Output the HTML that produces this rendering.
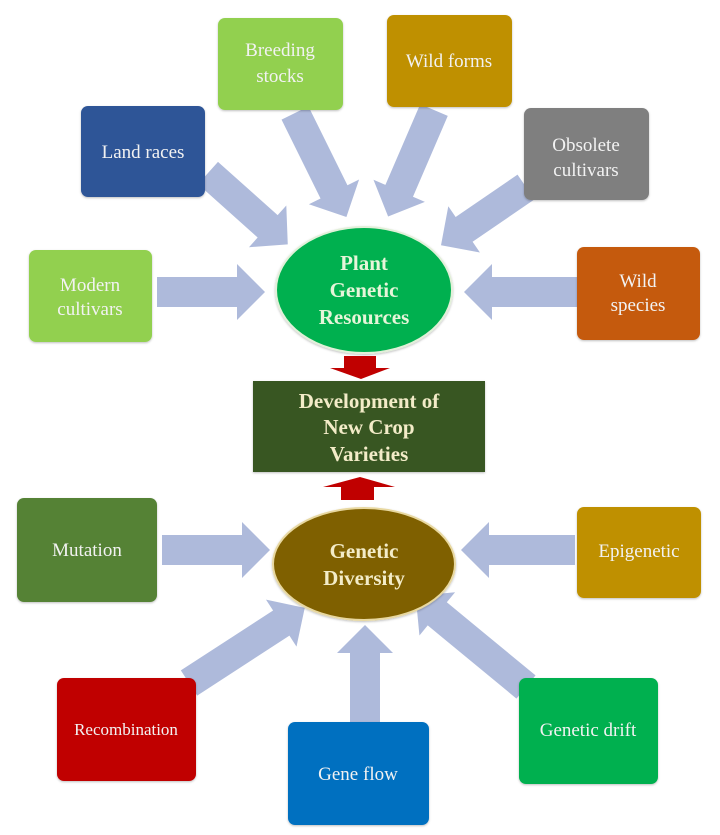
<!DOCTYPE html>
<html><head><meta charset="utf-8"><style>
html,body{margin:0;padding:0;background:#fff;}
svg{display:block;}
text{font-family:"Liberation Serif",serif;}
</style></head><body>
<svg width="720" height="835" viewBox="0 0 720 835" xmlns="http://www.w3.org/2000/svg">
<defs>
<filter id="sh" x="-10%" y="-10%" width="120%" height="120%"><feDropShadow dx="0" dy="1" stdDeviation="1" flood-opacity="0.25"/></filter>
</defs>
<g fill="#aebadb">
<polygon points="157,277 237,277 237,264 265,292 237,320 237,307 157,307"/>
<polygon points="577,277 492,277 492,264 464,292 492,320 492,307 577,307"/>
<polygon points="162,535 242,535 242,522 270,550 242,578 242,565 162,565"/>
<polygon points="575,535 489,535 489,522 461,550 489,578 489,565 575,565"/>
<polygon points="350,722 380,722 380,653 393,653 365,625 337,653 350,653"/>
<g transform="translate(208,173) rotate(41.8)"><polygon points="0,-15 80,-15 80,-28 107,0 80,28 80,15 0,15"/></g>
<g transform="translate(295,113) rotate(63.7)"><polygon points="0,-15 88,-15 88,-28 116,0 88,28 88,15 0,15"/></g>
<g transform="translate(434,110) rotate(113.3)"><polygon points="0,-15 88,-15 88,-28 116,0 88,28 88,15 0,15"/></g>
<g transform="translate(526,187) rotate(145.6)"><polygon points="0,-15 75,-15 75,-28 103,0 75,28 75,15 0,15"/></g>
<g transform="translate(189,683) rotate(-33)"><polygon points="0,-15 110,-15 110,-28 138,0 110,28 110,15 0,15"/></g>
<g transform="translate(526,687) rotate(-140.5)"><polygon points="0,-15 115,-15 115,-28 143,0 115,28 115,15 0,15"/></g>
</g>
<g filter="url(#sh)">
<rect x="218" y="18" width="125" height="92" rx="7" fill="#92d050"/>
<rect x="387" y="15" width="125" height="92" rx="7" fill="#bf9000"/>
<rect x="81" y="106" width="124" height="91" rx="7" fill="#2f5597"/>
<rect x="524" y="108" width="125" height="92" rx="7" fill="#7f7f7f"/>
<rect x="29" y="250" width="123" height="92" rx="7" fill="#92d050"/>
<rect x="577" y="247" width="123" height="93" rx="7" fill="#c55a11"/>
<ellipse cx="364" cy="290" rx="88" ry="63" fill="#00b050" stroke="#e2f0d9" stroke-width="2"/>
<rect x="253" y="381" width="232" height="91" fill="#385723"/>
<ellipse cx="364" cy="564" rx="91" ry="56" fill="#7f6000" stroke="#e8d8a0" stroke-width="2"/>
<rect x="17" y="498" width="140" height="104" rx="7" fill="#548235"/>
<rect x="577" y="507" width="124" height="91" rx="7" fill="#bf9000"/>
<rect x="57" y="678" width="139" height="103" rx="7" fill="#c00000"/>
<rect x="288" y="722" width="141" height="103" rx="7" fill="#0070c0"/>
<rect x="519" y="678" width="139" height="106" rx="7" fill="#00b050"/>
</g>
<polygon points="344,356 376,356 376,368 390,368 361,379 330,368 344,368" fill="#c00000"/>
<polygon points="341,500 374,500 374,487 395,487 360,477 323,487 341,487" fill="#c00000"/>
<g fill="#f2f2f2" font-size="19" text-anchor="middle">
<text x="280" y="56">Breeding</text><text x="280" y="82">stocks</text>
<text x="449" y="67">Wild forms</text>
<text x="143" y="158">Land races</text>
<text x="586" y="151">Obsolete</text><text x="586" y="176">cultivars</text>
<text x="90" y="291">Modern</text><text x="90" y="315">cultivars</text>
<text x="638" y="287">Wild</text><text x="638" y="311">species</text>
<text x="87" y="556">Mutation</text>
<text x="639" y="557">Epigenetic</text>
<text x="126" y="735" font-size="17">Recombination</text>
<text x="358" y="780">Gene flow</text>
<text x="588" y="736">Genetic drift</text>
</g>
<g fill="#e6f5d9" font-size="21" font-weight="bold" text-anchor="middle">
<text x="364" y="270">Plant</text><text x="364" y="297">Genetic</text><text x="364" y="324">Resources</text>
</g>
<g fill="#f3ecc8" font-size="21" font-weight="bold" text-anchor="middle">
<text x="369" y="408">Development of</text><text x="369" y="434">New Crop</text><text x="369" y="461">Varieties</text>
<text x="364" y="558">Genetic</text><text x="364" y="585">Diversity</text>
</g>
</svg>
</body></html>
